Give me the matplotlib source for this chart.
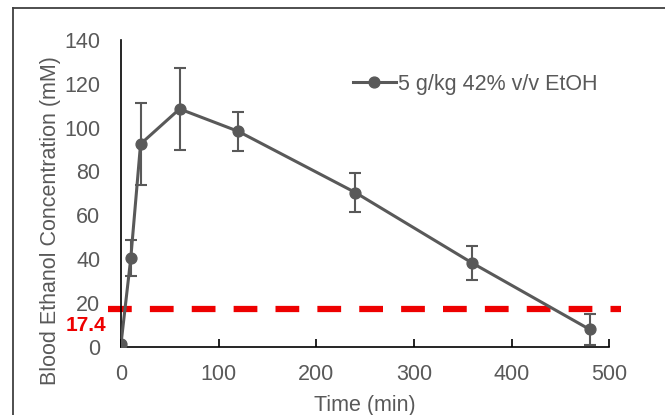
#!/usr/bin/env python3
"""Blood ethanol concentration over time after a 5 g/kg EtOH dose."""

import matplotlib.pyplot as plt
from matplotlib.lines import Line2D

time_min = [0, 10, 20, 60, 120, 240, 360, 480]
bec_mm = [1.5, 40.5, 92.5, 108.5, 98.3, 70.4, 38.2, 8.0]
bec_err = [0.0, 8.3, 18.5, 18.5, 8.8, 8.9, 7.8, 7.0]
series_label = "5 g/kg 42% v/v EtOH"
threshold = 17.4
x_ticks = [0, 100, 200, 300, 400, 500]
y_ticks = [0, 20, 40, 60, 80, 100, 120, 140]

GREY = "#595959"
RED = "#ee0000"
FS = 15.5


def main() -> None:
    plt.rcParams["font.family"] = ["Liberation Sans", "DejaVu Sans"]

    fig = plt.figure(figsize=(6.65, 4.15), dpi=100, facecolor="white")
    ax = fig.add_axes([0.182, 0.164, 0.734, 0.740])

    # outer frame (only top and left edges are inside the image)
    x0, y1 = 12.5 / 665, 1 - 8.5 / 415
    for xs, ys in (([x0, 1.0], [y1, y1]), ([x0, x0], [0.0, y1])):
        fig.add_artist(Line2D(xs, ys, transform=fig.transFigure,
                              color="#404040", linewidth=1.3))

    ax.errorbar(time_min, bec_mm, yerr=bec_err, color=GREY, linewidth=2.2,
                marker="o", markersize=7.8, ecolor=GREY, elinewidth=1.5,
                capsize=4, capthick=1.5, zorder=3)

    ax.plot([-13, 512], [threshold, threshold], color=RED, linewidth=4.5,
            dashes=(3.8, 2.9), clip_on=False, zorder=2)
    ax.text(-0.03, threshold - 7.4, f"{threshold}", transform=ax.get_yaxis_transform(),
            color=RED, fontsize=15, fontweight="bold", ha="right", va="center")

    ax.set_xlim(0, 500)
    ax.set_ylim(0, 140)
    ax.set_xticks(x_ticks)
    ax.set_yticks(y_ticks)

    for side in ("top", "right"):
        ax.spines[side].set_visible(False)
    for side in ("left", "bottom"):
        ax.spines[side].set_color("black")
        ax.spines[side].set_linewidth(1.2)

    ax.tick_params(axis="x", direction="in", length=6, width=1.2, colors="black",
                   labelcolor=GREY, labelsize=FS, pad=12)
    ax.tick_params(axis="y", length=0, labelcolor=GREY, labelsize=FS, pad=15)

    ax.set_xlabel("Time (min)", color=GREY, fontsize=FS)
    ax.set_ylabel("Blood Ethanol Concentration (mM)", color=GREY, fontsize=FS)
    ax.xaxis.set_label_coords(0.5, -0.155)
    ax.yaxis.set_label_coords(-0.122, 0.41)

    handle = Line2D([], [], color=GREY, linewidth=2.2, marker="o", markersize=7.8)
    ax.legend([handle], [series_label], loc="center left",
              bbox_to_anchor=(0.475, 0.855), frameon=False, fontsize=FS,
              handlelength=2.0, handletextpad=0.1, borderpad=0, borderaxespad=0,
              labelcolor=GREY)

    fig.savefig("out.png", dpi=100, facecolor="white")
    plt.close(fig)


if __name__ == "__main__":
    main()
